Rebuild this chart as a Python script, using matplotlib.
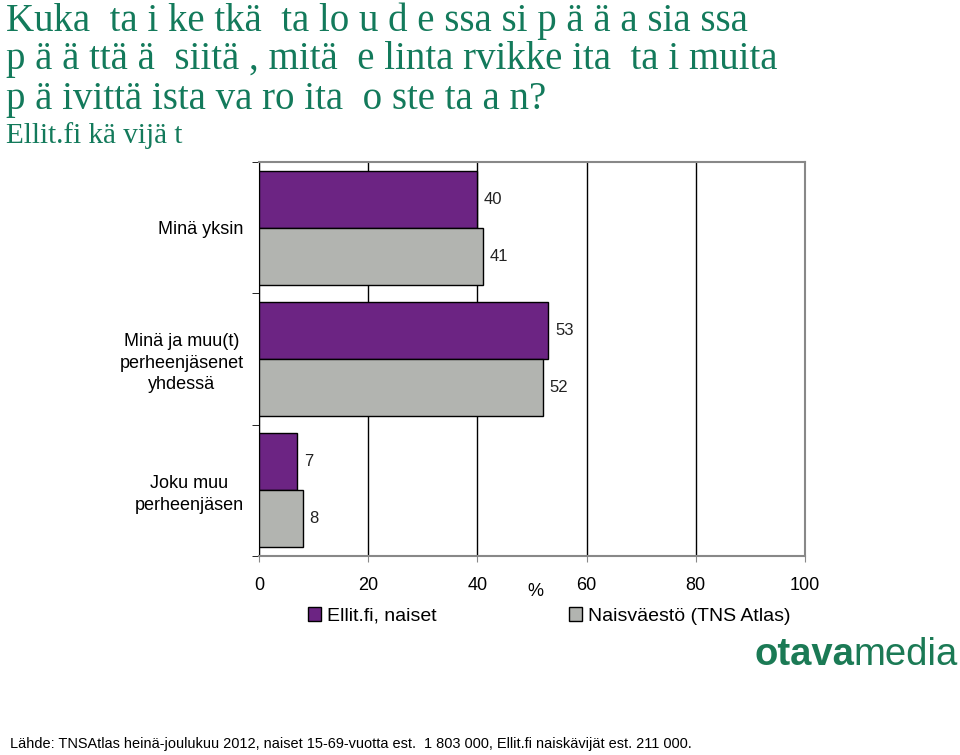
import matplotlib.pyplot as plt
import numpy as np

plt.rcParams['font.family'] = ['Liberation Sans', 'DejaVu Sans']

# Otsikko ja tekstit
title_lines = ["Kuka  ta i ke tkä  ta lo u d e ssa si p ä ä a sia ssa",
               "p ä ä ttä ä  siitä , mitä  e linta rvikke ita  ta i muita",
               "p ä ivittä ista va ro ita  o ste ta a n?"]
subtitle = "Ellit.fi kä vijä t"
footer = "Lähde: TNSAtlas heinä-joulukuu 2012, naiset 15-69-vuotta est.  1 803 000, Ellit.fi naiskävijät est. 211 000."

# Data
categories = ["Minä yksin", "Minä ja muu(t)\nperheenjäsenet\nyhdessä", "Joku muu\nperheenjäsen"]
ellit = [40, 53, 7]
naisvaesto = [41, 52, 8]
series_names = ["Ellit.fi, naiset", "Naisväestö (TNS Atlas)"]
x_ticks = [0, 20, 40, 60, 80, 100]

purple = "#6C2483"
grey = "#B2B4B0"
green = "#137A5B"

fig = plt.figure(figsize=(9.6, 7.55), dpi=100)
ax = fig.add_axes([259 / 960, 1 - 556 / 755, (805 - 259) / 960, (556 - 162) / 755])

y = np.arange(len(categories))
h = 0.435
b1 = ax.barh(y - h / 2, ellit, height=h, color=purple, edgecolor="black", linewidth=1, zorder=3)
b2 = ax.barh(y + h / 2, naisvaesto, height=h, color=grey, edgecolor="black", linewidth=1, zorder=3)

# Arvot palkkien perään
for i in range(len(categories)):
    ax.text(ellit[i] + 1.2, y[i] - h / 2, str(ellit[i]), va="center", ha="left", fontsize=12, color="#222222")
    ax.text(naisvaesto[i] + 1.2, y[i] + h / 2, str(naisvaesto[i]), va="center", ha="left", fontsize=12, color="#222222")

ax.set_xlim(0, 100)
ax.set_ylim(2.5, -0.5)
ax.set_xticks(x_ticks)
ax.set_xticklabels([str(t) for t in x_ticks], fontsize=13)
ax.tick_params(axis="x", length=4, color="#888888", pad=11)
ax.set_yticks(y)
ax.set_yticklabels(categories, fontsize=13, multialignment="center", linespacing=1.35)
ax.tick_params(axis="y", which="major", length=0, pad=11)
ax.set_yticks([-0.5, 0.5, 1.5, 2.5], minor=True)
ax.tick_params(axis="y", which="minor", length=5, color="black")
ax.grid(axis="x", color="black", linewidth=1, zorder=0)
ax.spines["left"].set_color("black")
for s in ["top", "right", "bottom"]:
    ax.spines[s].set_color("#888888")
    ax.spines[s].set_linewidth(1.5)

fig.text(535 / 960, 1 - 592 / 755, "%", fontsize=13, ha="center", va="center")

# Selite
fig.legend([b1, b2], series_names, loc="center left", bbox_to_anchor=(290 / 960, 1 - 616 / 755),
           ncol=2, frameon=False, fontsize=14, handlelength=0.7, handleheight=0.7,
           columnspacing=6.8, handletextpad=0.3)

# Otsikko
for i, line in enumerate(title_lines):
    fig.text(6 / 960, 1 - (21 + 39 * i) / 755, line, fontsize=28, family="Liberation Serif",
             color=green, va="center", ha="left")
fig.text(6 / 960, 1 - 136 / 755, subtitle, fontsize=21, family="Liberation Serif",
         color=green, va="center", ha="left")

# Logo
t = fig.text(754 / 960, 1 - 655 / 755, "otava", fontsize=27.5, fontweight="bold", color="#1B7A55",
             va="center", ha="left")
fig.canvas.draw()
bb = t.get_window_extent()
fig.text(bb.x1 / 960, 1 - 655 / 755, "media", fontsize=27.5, color="#1B7A55", va="center", ha="left")

fig.text(10 / 960, 1 - 744 / 755, footer, fontsize=10.45, va="center", ha="left")

fig.savefig("out.png", dpi=100)
